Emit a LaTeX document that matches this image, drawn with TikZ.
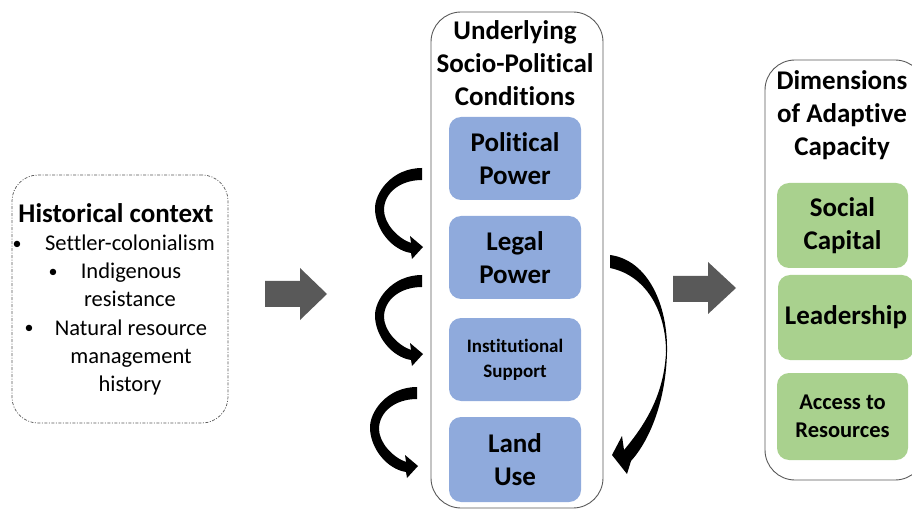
\documentclass[tikz,border=0pt]{standalone}
\usepackage{fontspec}
\setmainfont{Carlito}[RawFeature={-liga}]
\definecolor{boxblue}{HTML}{8FAADC}
\definecolor{boxgreen}{HTML}{A9D18E}
\definecolor{arrgray}{HTML}{595959}
\tikzset{
  bluebox/.style={rounded corners=12pt, fill=boxblue, minimum width=132pt, minimum height=83pt, inner sep=0pt, align=center, font=\fontsize{27}{33}\selectfont\bfseries},
  greenbox/.style={rounded corners=12pt, fill=boxgreen, minimum width=131pt, minimum height=85pt, inner sep=0pt, align=center, font=\fontsize{27}{33}\selectfont\bfseries},
  container/.style={draw=arrgray, line width=0.9pt, rounded corners=30pt, inner sep=0pt},
  titletext/.style={align=center, font=\fontsize{27}{33}\selectfont\bfseries, inner sep=0pt},
  bodytext/.style={font=\fontsize{22.5}{28}\selectfont, inner sep=0pt, anchor=base},
  bullettext/.style={font=\fontsize{18}{28}\selectfont, inner sep=0pt, anchor=base},
  blockarrow/.style={fill=arrgray},
  curl/.style={fill=black}
}
\newcommand{\leftcurl}[2]{%
  \fill[curl,shift={(#1,#2)}] (0,0) .. controls (-30,0) and (-48,25) .. (-47,42)
    .. controls (-46,62) and (-30,82) .. (-11,85) -- (-10,91) -- (1,79) -- (-12,68) -- (-11,75)
    .. controls (-25,70) and (-38,55) .. (-38,42) .. controls (-38,25) and (-22,12) .. (0,12) -- cycle;}
\begin{document}
\begin{tikzpicture}[x=1pt,y=-1pt]
\useasboundingbox (0,0) rectangle (912,510);
% historical context
\node[draw=arrgray, line width=0.7pt, dash pattern=on 3pt off 1.5pt on 1pt off 1.5pt, rounded corners=26pt, minimum width=216pt, minimum height=248pt, inner sep=0pt] (hist) at (120,299) {};
\node[font=\fontsize{27}{28}\selectfont\bfseries, inner sep=0pt, anchor=base] (histt) at (116,223) {Historical context};
\node[bullettext] (b1) at (17,250) {•};
\node[bodytext] (l1) at (130,251) {Settler-colonialism};
\node[bullettext] (b2) at (53,278) {•};
\node[bodytext] (l2) at (131,279) {Indigenous};
\node[bodytext] (l3) at (130,307) {resistance};
\node[bullettext] (b3) at (29,334) {•};
\node[bodytext] (l4) at (131,335) {Natural resource};
\node[bodytext] (l5) at (131,363) {management};
\node[bodytext] (l6) at (130,391) {history};
% gray arrows
\fill[blockarrow] (265,281) -- (300,281) -- (300,268) -- (327,294) -- (300,320) -- (300,307) -- (265,307) -- cycle;
\fill[blockarrow] (673,276) -- (708,276) -- (708,262) -- (736,288) -- (708,314) -- (708,302) -- (673,302) -- cycle;
% middle container
\node[container, minimum width=172pt, minimum height=496pt] (mid) at (517,260) {};
\node[titletext] (midt) at (515,63) {Underlying\\Socio-Political\\Conditions};
\node[bluebox] (pp) at (515,158.5) {Political\\Power};
\node[bluebox] (lp) at (515,257.5) {Legal\\Power};
\node[bluebox, font=\fontsize{19}{25}\selectfont\bfseries] (is) at (515,359.5) {Institutional\\Support};
\node[bluebox, minimum height=85pt] (lu) at (515,459.5) {Land\\Use};
% right container
\node[container, minimum width=160pt, minimum height=420pt] (right) at (845,270) {};
\node[titletext] (rt) at (842,115) {Dimensions\\of Adaptive\\Capacity};
\node[greenbox] (sc) at (842.5,225.5) {Social\\Capital};
\node[greenbox, minimum width=136pt] (ld) at (846,317.5) {Leadership};
\node[greenbox, minimum width=131pt, minimum height=87pt, font=\fontsize{22.5}{28}\selectfont\bfseries] (ar) at (842.5,416.5) {Access to\\Resources};
% curled arrows
\leftcurl{422}{168}
\leftcurl{422}{275}
\leftcurl{417}{387}
\fill[curl] (610,255) .. controls (648,260) and (668,305) .. (667,352)
  .. controls (666,400) and (650,440) .. (631,461) -- (627,474) -- (612,455) -- (622,436) -- (624,450)
  .. controls (645,425) and (664,395) .. (666,352) .. controls (666,310) and (645,275) .. (610,268) -- cycle;
\end{tikzpicture}
\end{document}
